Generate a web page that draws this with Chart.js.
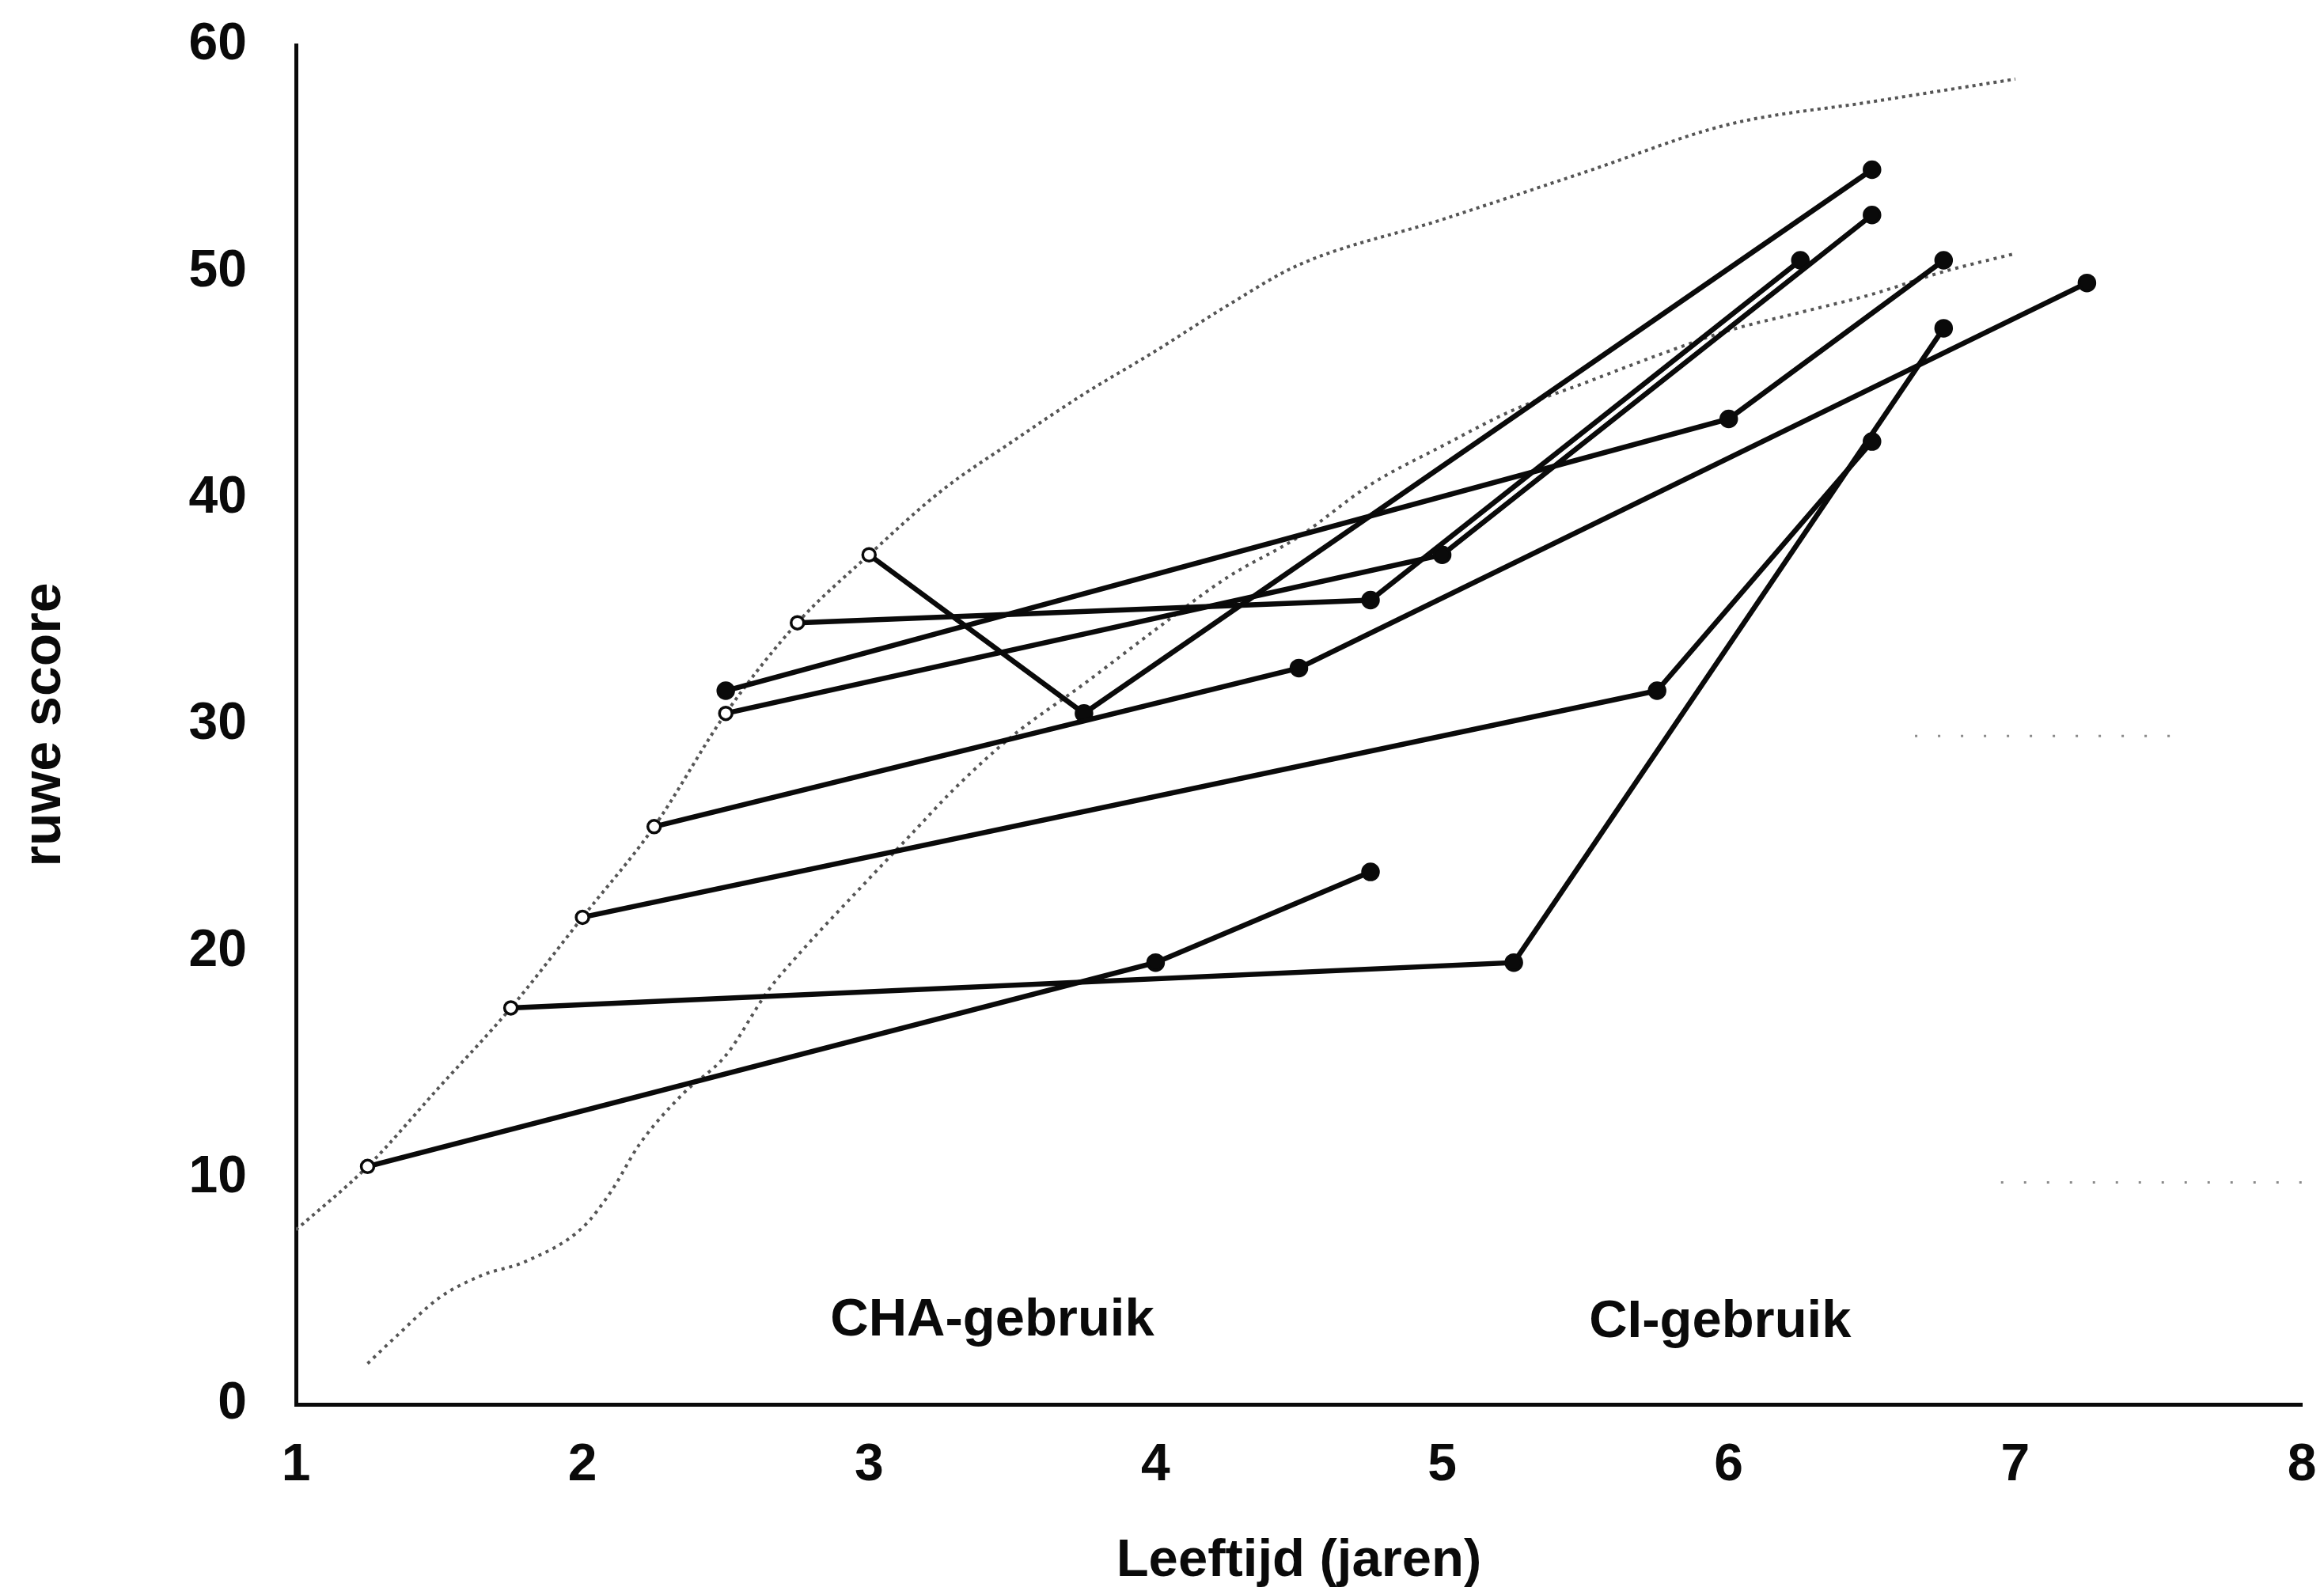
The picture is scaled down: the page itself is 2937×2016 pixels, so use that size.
<!DOCTYPE html>
<html>
<head>
<meta charset="utf-8">
<script src="https://cdn.jsdelivr.net/npm/chart.js@4/dist/chart.umd.min.js"></script>
<style>
  html, body { margin: 0; padding: 0; background: #fff; }
  #wrap { width: 2937px; height: 2016px; position: relative; }
</style>
</head>
<body>
<div id="wrap"><canvas id="c"></canvas></div>
<script>
// ---- Data ----
// Ages (years) of each child's measurements
const childAges = [
  [1.25, 4.0, 4.75],
  [1.75, 5.25, 6.75],
  [2.0, 5.75, 6.5],
  [2.25, 4.5, 7.25],
  [2.5, 5.0, 6.5],
  [2.5, 6.0, 6.75],
  [2.75, 4.75, 6.25],
  [3.0, 3.75, 6.5]
];
// Raw scores of each child's measurements
const childScores = [
  [10.5, 19.5, 23.5],
  [17.5, 19.5, 47.5],
  [21.5, 31.5, 42.5],
  [25.5, 32.5, 49.5],
  [30.5, 37.5, 52.5],
  [31.5, 43.5, 50.5],
  [34.5, 35.5, 50.5],
  [37.5, 30.5, 54.5]
];
// Number of leading measurements made during hearing-aid (CHA) use
const chaMeasurements = [1, 1, 1, 1, 1, 0, 1, 1];

// Norm curve (upper)
const normUpperAges = [1.0, 1.25, 1.5, 1.75, 2.0, 2.25, 2.5, 2.75, 3.0, 3.25, 3.5, 3.75, 4.0, 4.25, 4.5, 5.0, 5.5, 6.0, 6.5, 7.0];
const normUpperScores = [7.7, 10.5, 14.0, 17.5, 21.5, 25.5, 30.5, 34.5, 37.5, 40.3, 42.5, 44.6, 46.5, 48.5, 50.3, 52.3, 54.4, 56.5, 57.5, 58.5];
// Norm curve (middle)
const normMidAges = [1.25, 1.35, 1.5, 1.65, 1.8, 2.0, 2.1, 2.2, 2.35, 2.5, 2.65, 2.75, 3.0, 3.15, 3.3, 3.5, 3.75, 4.0, 4.25, 4.5, 4.75, 5.0, 5.25, 5.5, 5.75, 6.0, 6.25, 6.5, 6.75, 7.0];
const normMidScores = [1.8, 3.0, 4.7, 5.7, 6.3, 7.8, 9.4, 11.5, 13.7, 15.4, 18.3, 19.8, 23.2, 25.2, 27.2, 29.5, 31.8, 34.2, 36.5, 38.3, 40.6, 42.3, 43.9, 45.1, 46.3, 47.4, 48.2, 49.0, 50.0, 50.8];
// Faint remnant dotted segments at the right
const faintAges = [[6.65, 7.6], [6.95, 8.0]];
const faintScores = [[29.5, 29.5], [9.8, 9.8]];

// Axis ticks
const xTicks = [1, 2, 3, 4, 5, 6, 7, 8];
const yTicks = [0, 10, 20, 30, 40, 50, 60];

// Labels
const xTitle = 'Leeftijd (jaren)';
const yTitle = 'ruwe score';
const phaseLabels = [
  { text: 'CHA-gebruik', age: 3.43, score: 3.7 },
  { text: 'CI-gebruik', age: 5.97, score: 3.6 }
];

// ---- Build datasets ----
const FONT = "'Liberation Sans', Arial, Helvetica, sans-serif";
const toPts = (xs, ys) => xs.map((x, i) => ({ x: x, y: ys[i] }));

const datasets = [];
datasets.push({
  label: 'norm-upper',
  data: toPts(normUpperAges, normUpperScores),
  showLine: true, borderColor: '#555555', borderWidth: 4,
  borderDash: [4, 5], pointRadius: 0, cubicInterpolationMode: 'monotone', order: 5
});
datasets.push({
  label: 'norm-mid',
  data: toPts(normMidAges, normMidScores),
  showLine: true, borderColor: '#555555', borderWidth: 4,
  borderDash: [4, 6], pointRadius: 0, cubicInterpolationMode: 'monotone', order: 5
});
faintAges.forEach((xs, i) => {
  datasets.push({
    label: 'faint' + i,
    data: toPts(xs, faintScores[i]),
    showLine: true, borderColor: '#8a8a8a', borderWidth: 3,
    borderDash: [3, 26], pointRadius: 0, order: 6
  });
});
childAges.forEach((xs, i) => {
  const nOpen = chaMeasurements[i];
  datasets.push({
    label: 'child' + (i + 1),
    data: toPts(xs, childScores[i]),
    showLine: true, borderColor: '#0a0a0a', borderWidth: 6.5,
    pointRadius: (ctx) => ctx.dataIndex < nOpen ? 8 : 10,
    pointBorderWidth: 3.5,
    pointBorderColor: '#0a0a0a',
    pointBackgroundColor: (ctx) => ctx.dataIndex < nOpen ? '#ffffff' : '#0a0a0a',
    order: 1
  });
});

const phaseTextPlugin = {
  id: 'phaseText',
  afterDatasetsDraw(chart) {
    const { ctx, scales } = chart;
    ctx.save();
    ctx.fillStyle = '#0a0a0a';
    ctx.font = 'bold 67px ' + FONT;
    ctx.textAlign = 'center';
    ctx.textBaseline = 'middle';
    phaseLabels.forEach(p => {
      ctx.fillText(p.text, scales.x.getPixelForValue(p.age), scales.y.getPixelForValue(p.score));
    });
    ctx.restore();
  }
};

new Chart(document.getElementById('c'), {
  type: 'scatter',
  data: { datasets },
  plugins: [phaseTextPlugin],
  options: {
    responsive: true,
    maintainAspectRatio: false,
    animation: false,
    layout: { padding: { left: 0, right: 28, top: 57, bottom: 0 } },
    plugins: { legend: { display: false }, tooltip: { enabled: false } },
    scales: {
      x: {
        type: 'linear', min: 1, max: 8,
        afterBuildTicks: (s) => { s.ticks = xTicks.map(v => ({ value: v })); },
        afterFit: (s) => { s.height = 241; s.paddingLeft = 0; s.paddingRight = 0; },
        grid: { display: false, drawTicks: false, tickLength: 0 },
        border: { display: true, color: '#0a0a0a', width: 5 },
        ticks: { color: '#0a0a0a', padding: 38, font: { family: FONT, size: 66, weight: 'bold' }, maxRotation: 0 },
        title: { display: true, text: xTitle, color: '#0a0a0a', font: { family: FONT, size: 67, weight: 'bold' }, padding: { top: 0, bottom: 2 } }
      },
      y: {
        type: 'linear', min: 0, max: 60,
        afterBuildTicks: (s) => { s.ticks = yTicks.map(v => ({ value: v })); },
        afterFit: (s) => { s.width = 374; s.paddingTop = 0; s.paddingBottom = 0; },
        grid: { display: false, drawTicks: false, tickLength: 0 },
        border: { display: true, color: '#0a0a0a', width: 5 },
        ticks: { color: '#0a0a0a', padding: 62, font: { family: FONT, size: 66, weight: 'bold' } },
        title: { display: true, text: yTitle, color: '#0a0a0a', font: { family: FONT, size: 68, weight: 'bold' }, padding: { top: 16, bottom: 0 } }
      }
    }
  }
});
</script>
</body>
</html>
